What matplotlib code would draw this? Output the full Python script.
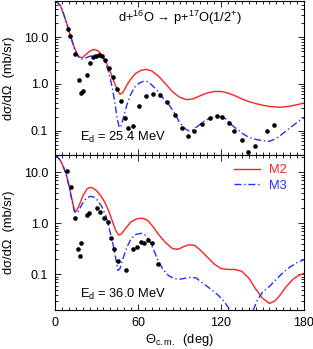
import matplotlib
matplotlib.use("Agg")
import matplotlib.pyplot as plt
from matplotlib.ticker import LogLocator, FuncFormatter, MultipleLocator, NullFormatter
from matplotlib.lines import Line2D

plt.rcParams['font.family'] = ['Liberation Sans', 'DejaVu Sans']
plt.rcParams['mathtext.fontset'] = 'custom'
plt.rcParams['mathtext.rm'] = 'Liberation Sans'
plt.rcParams['mathtext.it'] = 'Liberation Sans:italic'
plt.rcParams['font.size'] = 9

# --- E_d = 25.4 MeV: data and calculations ---
exp1_ang = [9.4, 11.2, 14.7, 17.7, 19.0, 20.6, 22.9, 25.3, 27.7, 29.6, 31.6, 33.8, 36.4, 38.7,
            42.2, 44.7, 47.6, 50.5, 53.1, 56.2, 60.5, 65.6, 70.6, 75.7, 80.8, 86.8, 91.6, 96.5,
            100.7, 106.1, 112.1, 117.1, 120.4, 125.5, 129.6, 135.0, 139.3, 144.6, 153.1, 158.4]
exp1_val = [15.4, 10.5, 4.4, 1.2, 0.65, 0.72, 1.59, 2.83, 3.8, 4.05, 4.26, 4.05, 3.33, 2.21,
            1.41, 0.79, 0.43, 0.19, 0.112, 0.124, 0.33, 0.55, 0.62, 0.58, 0.41, 0.22, 0.116, 0.077,
            0.10, 0.142, 0.188, 0.203, 0.194, 0.147, 0.097, 0.063, 0.035, 0.046, 0.099, 0.134]

m2_1_ang = [0, 2, 4, 6, 8, 10, 12, 14, 16, 18, 20, 22, 25, 28, 31, 34, 37, 40, 43, 45, 47, 49,
            52, 55, 58, 62, 66, 70, 75, 80, 85, 90, 95, 100, 105, 110, 115, 120, 125, 130, 135,
            140, 145, 150, 155, 160, 165, 170, 175, 180]
m2_1_val = [60, 55, 47, 33, 22, 14, 9.0, 6.0, 4.4, 3.7, 3.7, 4.2, 5.0, 5.5, 5.2, 4.2, 2.9, 1.8,
            1.05, 0.75, 0.60, 0.65, 0.95, 1.3, 1.65, 1.95, 2.05, 1.9, 1.45, 1.0, 0.68, 0.52, 0.46,
            0.48, 0.56, 0.64, 0.69, 0.69, 0.64, 0.56, 0.48, 0.42, 0.38, 0.35, 0.33, 0.32, 0.32,
            0.335, 0.36, 0.39]

m3_1_ang = [0, 2, 4, 6, 8, 10, 12, 14, 16, 18, 20, 22, 25, 28, 31, 33, 35, 37, 39, 41, 43, 45,
            46.5, 48, 50, 52, 55, 58, 61, 64, 67, 70, 74, 78, 82, 86, 90, 94, 97, 100, 104, 108,
            112, 116, 120, 124, 128, 132, 136, 140, 145, 150, 155, 160, 165, 170, 175, 180]
m3_1_val = [60, 55, 47, 33, 22, 14, 9.0, 5.8, 4.2, 3.5, 3.4, 3.6, 3.9, 4.1, 4.2, 4.0, 3.5, 2.6,
            1.7, 0.95, 0.45, 0.18, 0.115, 0.13, 0.22, 0.36, 0.62, 0.88, 1.05, 1.14, 1.12, 0.95,
            0.72, 0.5, 0.37, 0.25, 0.15, 0.11, 0.098, 0.105, 0.13, 0.16, 0.185, 0.2, 0.2, 0.175,
            0.13, 0.105, 0.085, 0.072, 0.065, 0.061, 0.059, 0.068, 0.088, 0.115, 0.15, 0.19]

# --- E_d = 36.0 MeV ---
exp2_ang = [8.9, 11.3, 14.7, 16.6, 18.3, 18.8, 23.1, 24.8, 30.2, 32.5, 35.6, 38.1, 40.5, 42.7,
            45.8, 51.1, 56.2, 59.1, 62.2, 64.4, 67.1, 70.3, 74.3]
exp2_val = [10.8, 5.1, 1.25, 0.32, 0.23, 0.42, 1.46, 1.57, 1.97, 1.69, 1.25, 1.05, 0.51, 0.31,
            0.185, 0.121, 0.31, 0.35, 0.44, 0.42, 0.48, 0.42, 0.16]

m2_2_ang = [0, 2, 4, 6, 8, 10, 12, 14, 15, 17, 20, 23, 25, 27, 30, 33, 36, 39, 42, 44, 46, 48,
            51, 55, 59, 63, 67, 71, 75, 80, 85, 89, 93, 97, 101, 105, 110, 115, 120, 125, 130,
            135, 140, 145, 150, 155, 159, 163, 167, 172, 176, 180]
m2_2_val = [22, 20, 17, 13, 9.5, 5.8, 3.2, 1.8, 1.7, 2.1, 3.4, 4.7, 5.1, 5.0, 4.4, 3.5, 2.6, 1.7,
            1.0, 0.72, 0.59, 0.62, 0.8, 1.07, 1.23, 1.27, 1.15, 0.85, 0.6, 0.42, 0.32, 0.31, 0.35,
            0.38, 0.37, 0.3, 0.22, 0.16, 0.13, 0.125, 0.125, 0.115, 0.085, 0.052, 0.034, 0.027,
            0.03, 0.04, 0.057, 0.08, 0.095, 0.105]

m3_2_ang = [0, 2, 4, 6, 8, 10, 12, 14, 15.5, 17, 20, 23, 26, 28, 31, 34, 37, 40, 42, 44, 45.5,
            47, 49, 52, 55, 58, 62, 65, 68, 71, 74, 78, 82, 86, 90, 94, 98, 102, 106, 110, 114,
            118, 122, 126, 130, 134, 137, 140, 143, 146, 150, 155, 160, 165, 170, 175, 180]
m3_2_val = [22, 20, 17, 13, 9.2, 5.5, 3.0, 1.7, 1.6, 1.75, 2.5, 3.2, 3.4, 3.3, 2.8, 2.1, 1.35,
            0.65, 0.38, 0.2, 0.12, 0.13, 0.2, 0.34, 0.5, 0.6, 0.64, 0.6, 0.47, 0.32, 0.2, 0.125,
            0.095, 0.083, 0.08, 0.084, 0.088, 0.085, 0.07, 0.058, 0.048, 0.039, 0.03, 0.021,
            0.014, 0.009, 0.008, 0.011, 0.019, 0.03, 0.045, 0.058, 0.08, 0.11, 0.14, 0.17, 0.195]

red = '#ff2020'
blue = '#2030ff'
dashdot = (0, (5, 2, 1, 2))

fig = plt.figure(figsize=(3.13, 3.49), dpi=100)
W, H = 313, 349
ax1 = fig.add_axes([55 / W, 1 - 155 / H, 249 / W, 154 / H])
ax2 = fig.add_axes([55 / W, 1 - 310 / H, 249 / W, 155 / H])


def style(ax, ylim):
    ax.set_yscale('log')
    ax.set_xlim(0, 180)
    ax.set_ylim(*ylim)
    ax.xaxis.set_major_locator(MultipleLocator(60))
    ax.xaxis.set_minor_locator(MultipleLocator(5))
    ax.yaxis.set_major_locator(LogLocator(base=10, numticks=10))
    ax.yaxis.set_minor_locator(LogLocator(base=10, subs=range(2, 10), numticks=20))
    ax.yaxis.set_major_formatter(FuncFormatter(lambda v, p: '%.1f' % v))
    ax.yaxis.set_minor_formatter(NullFormatter())
    ax.tick_params(which='both', direction='in', top=True, right=True, width=0.6, labelsize=9)
    ax.tick_params(which='major', length=4, pad=5)
    ax.tick_params(which='minor', length=2)
    for s in ax.spines.values():
        s.set_linewidth(0.8)
    ax.set_ylabel('dσ/dΩ  (mb/sr)', fontsize=9.3)
    ax.yaxis.set_label_coords(-0.16, 0.5)


ax1.plot(m2_1_ang, m2_1_val, color=red, lw=1.0)
ax1.plot(m3_1_ang, m3_1_val, color=blue, lw=1.0, ls=dashdot)
ax1.plot(exp1_ang, exp1_val, 'o', color='black', ms=2.3)
style(ax1, (0.03, 60))
ax1.tick_params(labelbottom=False)
ax1.text(0.5, 0.893, r'd+$^{\mathregular{16}}$O → p+$^{\mathregular{17}}$O(1/2$^{\mathregular{+}}$)',
         transform=ax1.transAxes, ha='center', va='center', fontsize=9.3)
ax1.text(0.1, 0.117, r'E$_{\mathregular{d}}$ = 25.4 MeV', transform=ax1.transAxes,
         ha='left', va='center', fontsize=9.3)

ax2.plot(m2_2_ang, m2_2_val, color=red, lw=1.0)
ax2.plot(m3_2_ang, m3_2_val, color=blue, lw=1.0, ls=dashdot)
ax2.plot(exp2_ang, exp2_val, 'o', color='black', ms=2.3)
style(ax2, (0.02, 22))
ax2.text(0.1, 0.103, r'E$_{\mathregular{d}}$ = 36.0 MeV', transform=ax2.transAxes,
         ha='left', va='center', fontsize=9.3)
ax2.set_xlabel(r'Θ$_{\mathregular{c.m.}}$  (deg)', fontsize=9.3)
ax2.xaxis.set_label_coords(0.5, -0.14)

handles = [Line2D([], [], color=red, lw=1.0), Line2D([], [], color=blue, lw=1.0, ls=dashdot)]
ax2.legend(handles, ['M2', 'M3'], loc='upper right', bbox_to_anchor=(0.93, 0.94),
           frameon=False, fontsize=9.3, handlelength=2.0, handletextpad=0.7,
           labelspacing=0.25, borderpad=0, borderaxespad=0, labelcolor='linecolor')

fig.savefig('out.png', dpi=100)
